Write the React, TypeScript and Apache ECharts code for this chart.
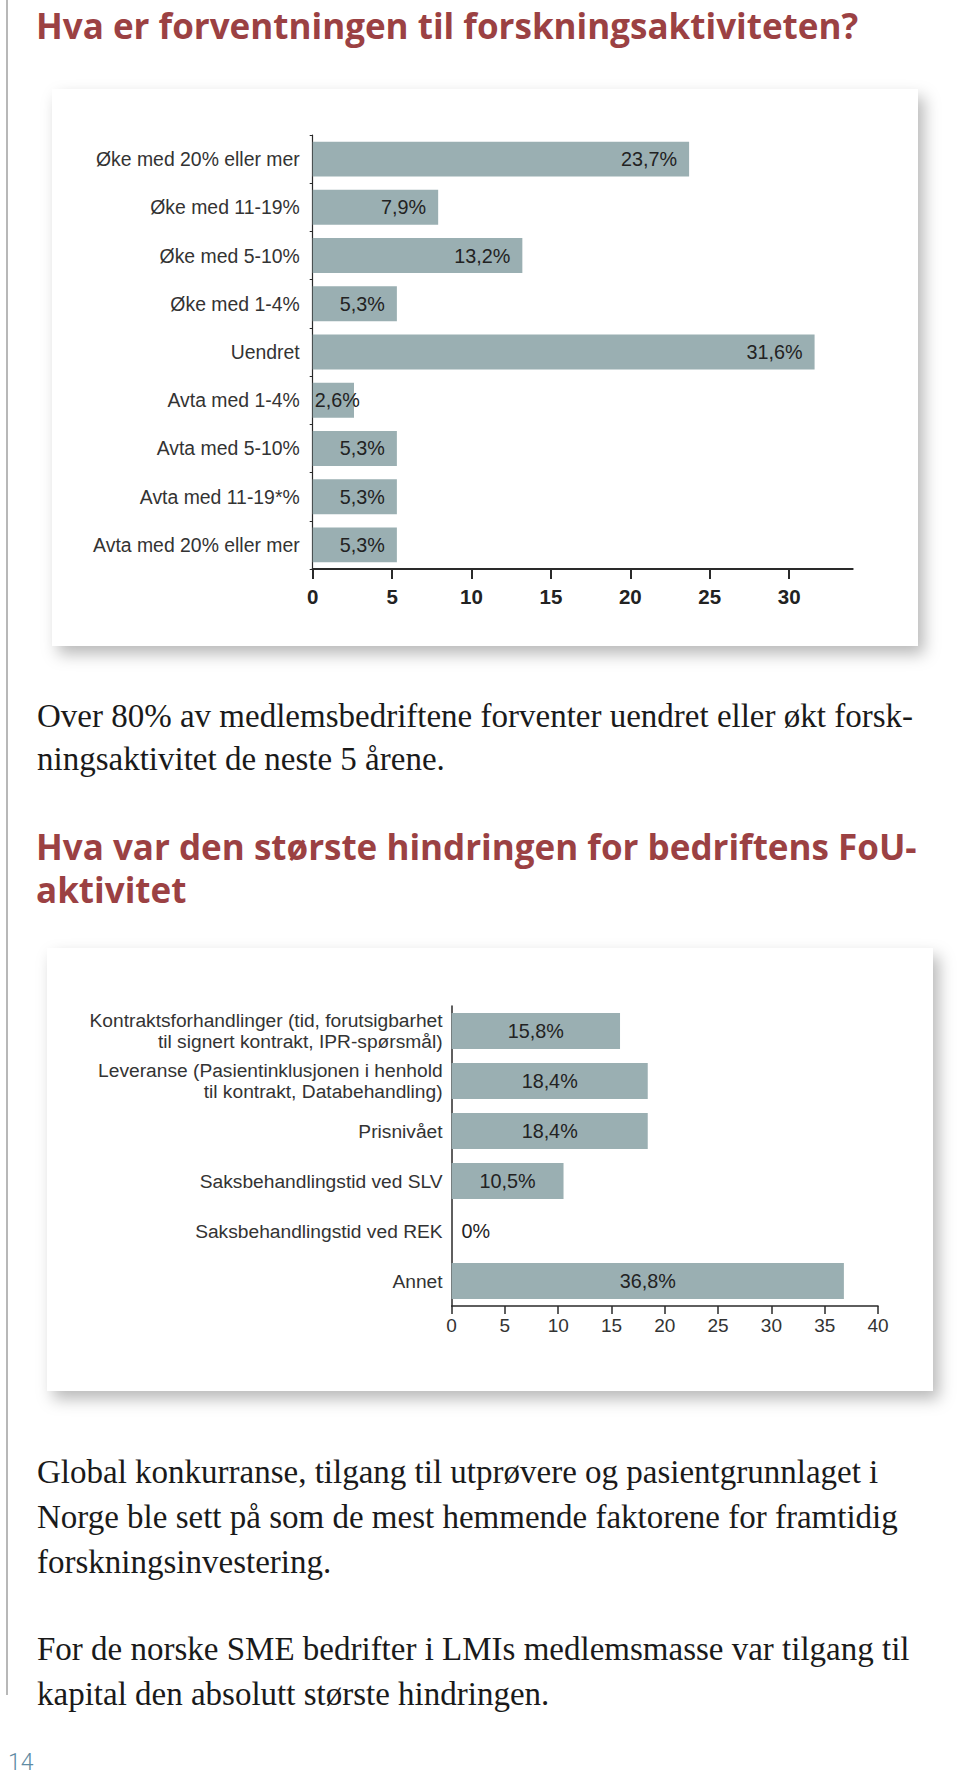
import React, { useEffect, useRef } from "react";
import * as echarts from "echarts";

// ---- Data ----
const cats1 = [
  "Øke med 20% eller mer",
  "Øke med 11-19%",
  "Øke med 5-10%",
  "Øke med 1-4%",
  "Uendret",
  "Avta med 1-4%",
  "Avta med 5-10%",
  "Avta med 11-19*%",
  "Avta med 20% eller mer",
];
const vals1 = [23.7, 7.9, 13.2, 5.3, 31.6, 2.6, 5.3, 5.3, 5.3];
const xTicks1 = [0, 5, 10, 15, 20, 25, 30];

const cats2 = [
  "Kontraktsforhandlinger (tid, forutsigbarhet\ntil signert kontrakt, IPR-spørsmål)",
  "Leveranse (Pasientinklusjonen i henhold\ntil kontrakt, Databehandling)",
  "Prisnivået",
  "Saksbehandlingstid ved SLV",
  "Saksbehandlingstid ved REK",
  "Annet",
];
const vals2 = [15.8, 18.4, 18.4, 10.5, 0, 36.8];
const xTicks2 = [0, 5, 10, 15, 20, 25, 30, 35, 40];

const title1 = "Hva er forventningen til forskningsaktiviteten?";
const title2 = ["Hva var den største hindringen for bedriftens FoU-", "aktivitet"];
const para1 = [
  "Over 80% av medlemsbedriftene forventer uendret eller økt forsk-",
  "ningsaktivitet de neste 5 årene.",
];
const para2 = [
  "Global konkurranse, tilgang til utprøvere og pasientgrunnlaget i",
  "Norge ble sett på som de mest hemmende faktorene for framtidig",
  "forskningsinvestering.",
];
const para3 = [
  "For de norske SME bedrifter i LMIs medlemsmasse var tilgang til",
  "kapital den absolutt største hindringen.",
];
const pageNo = "14";

const BAR = "#9aafb2";
const RED = "#9b4143";
const SANS = "'Liberation Sans', Arial, sans-serif";
const SERIF = "'Liberation Serif', 'Times New Roman', serif";
const HEAD = "'Open Sans', 'Noto Sans', sans-serif";

const fmt = (v: number) => (v === 0 ? "0%" : v.toFixed(1).replace(".", ",") + "%");

function textEl(text: string, x: number, y: number, fontSize: number, family: string, fill: string, weight: any = "normal") {
  return {
    type: "text",
    x,
    y,
    style: {
      text,
      fontSize,
      fontFamily: family,
      fontWeight: weight,
      fill,
      textAlign: "left",
      textVerticalAlign: "middle",
    },
  };
}

export default function App() {
  const ref = useRef<HTMLDivElement>(null);
  useEffect(() => {
    if (!ref.current) return;
    const chart = echarts.init(ref.current, null, { renderer: "svg" });

    const serifFs = 33;
    const headFs = 35;
    const graphics: any[] = [
      {
        type: "line",
        shape: { x1: 7, y1: 0, x2: 7, y2: 1695 },
        style: { stroke: "#a0a0a0", lineWidth: 1.5 },
      },
      {
        type: "rect",
        z: -10,
        shape: { x: 52, y: 89, width: 866, height: 557 },
        style: { fill: "#ffffff", shadowBlur: 16, shadowOffsetX: 6, shadowOffsetY: 8, shadowColor: "rgba(0,0,0,0.28)" },
      },
      {
        type: "rect",
        z: -10,
        shape: { x: 47, y: 948, width: 886, height: 443 },
        style: { fill: "#ffffff", shadowBlur: 16, shadowOffsetX: 6, shadowOffsetY: 8, shadowColor: "rgba(0,0,0,0.28)" },
      },
      textEl(title1, 36, 39 - 0.38 * headFs, headFs, HEAD, RED, 700),
      textEl(title2[0], 36, 860 - 0.38 * headFs, headFs, HEAD, RED, 700),
      textEl(title2[1], 36, 903 - 0.38 * headFs, headFs, HEAD, RED, 700),
      ...para1.map((t, i) => textEl(t, 37, 727 + i * 43 - 0.34 * serifFs, serifFs, SERIF, "#1a1a1a")),
      ...para2.map((t, i) => textEl(t, 37, 1483 + i * 45 - 0.34 * serifFs, serifFs, SERIF, "#1a1a1a")),
      ...para3.map((t, i) => textEl(t, 37, 1660 + i * 45 - 0.34 * serifFs, serifFs, SERIF, "#1a1a1a")),
      textEl(pageNo, 8, 1762, 23, "Roboto, sans-serif", "#5f8ba3", 300),
    ];

    const option: any = {
      animation: false,
      backgroundColor: "#ffffff",
      graphic: { elements: graphics },
      grid: [
        { left: 312.7, top: 135, width: 540, height: 434, containLabel: false },
        { left: 451.6, top: 1006, width: 426.4, height: 300, containLabel: false },
      ],
      xAxis: [
        {
          gridIndex: 0,
          type: "value",
          min: 0,
          max: 34,
          interval: 5,
          splitLine: { show: false },
          axisLine: { show: true, lineStyle: { color: "#2a2a2a", width: 2 } },
          axisTick: { show: true, length: 10, lineStyle: { color: "#2a2a2a", width: 2 }, customValues: xTicks1 },
          axisLabel: {
            customValues: xTicks1,
            margin: 17,
            fontFamily: SANS,
            fontSize: 20.5,
            fontWeight: "bold",
            color: "#222",
          },
        },
        {
          gridIndex: 1,
          type: "value",
          min: 0,
          max: 40,
          interval: 5,
          splitLine: { show: false },
          axisLine: { show: true, lineStyle: { color: "#2a2a2a", width: 1.5 } },
          axisTick: { show: true, length: 8, lineStyle: { color: "#2a2a2a", width: 1.5 }, customValues: xTicks2 },
          axisLabel: {
            customValues: xTicks2,
            margin: 10,
            fontFamily: SANS,
            fontSize: 19,
            color: "#333",
          },
        },
      ],
      yAxis: [
        {
          gridIndex: 0,
          type: "category",
          data: cats1,
          inverse: true,
          axisLine: { show: true, lineStyle: { color: "#2a2a2a", width: 1.2 } },
          axisTick: { show: true, length: 3, lineStyle: { color: "#2a2a2a" } },
          axisLabel: { margin: 13, fontFamily: SANS, fontSize: 19.4, color: "#333" },
        },
        {
          gridIndex: 1,
          type: "category",
          data: cats2,
          inverse: true,
          axisLine: { show: true, lineStyle: { color: "#2a2a2a", width: 1.5 } },
          axisTick: { show: false },
          axisLabel: { margin: 9, fontFamily: SANS, fontSize: 19.2, lineHeight: 21, color: "#333", align: "right" },
        },
      ],
      series: [
        {
          type: "bar",
          xAxisIndex: 0,
          yAxisIndex: 0,
          barCategoryGap: "27.5%",
          itemStyle: { color: BAR },
          data: vals1.map((v) => ({
            value: v,
            label: v < 4 ? { position: "insideLeft", distance: 2 } : undefined,
          })),
          label: {
            show: true,
            position: "insideRight",
            distance: 12,
            formatter: (p: any) => fmt(p.value),
            fontFamily: SANS,
            fontSize: 19.8,
            color: "#222",
          },
        },
        {
          type: "bar",
          xAxisIndex: 1,
          yAxisIndex: 1,
          barCategoryGap: "28%",
          itemStyle: { color: BAR },
          data: vals2.map((v) => ({
            value: v,
            label: v === 0 ? { position: "right", distance: 10 } : undefined,
          })),
          label: {
            show: true,
            position: "inside",
            formatter: (p: any) => fmt(p.value),
            fontFamily: SANS,
            fontSize: 19.8,
            color: "#222",
          },
        },
      ],
    };
    chart.setOption(option);
    return () => chart.dispose();
  }, []);

  return (
    <div
      ref={ref}
      style={{ position: "absolute", left: 0, top: 0, width: 960, height: 1780, background: "#fff" }}
    />
  );
}
